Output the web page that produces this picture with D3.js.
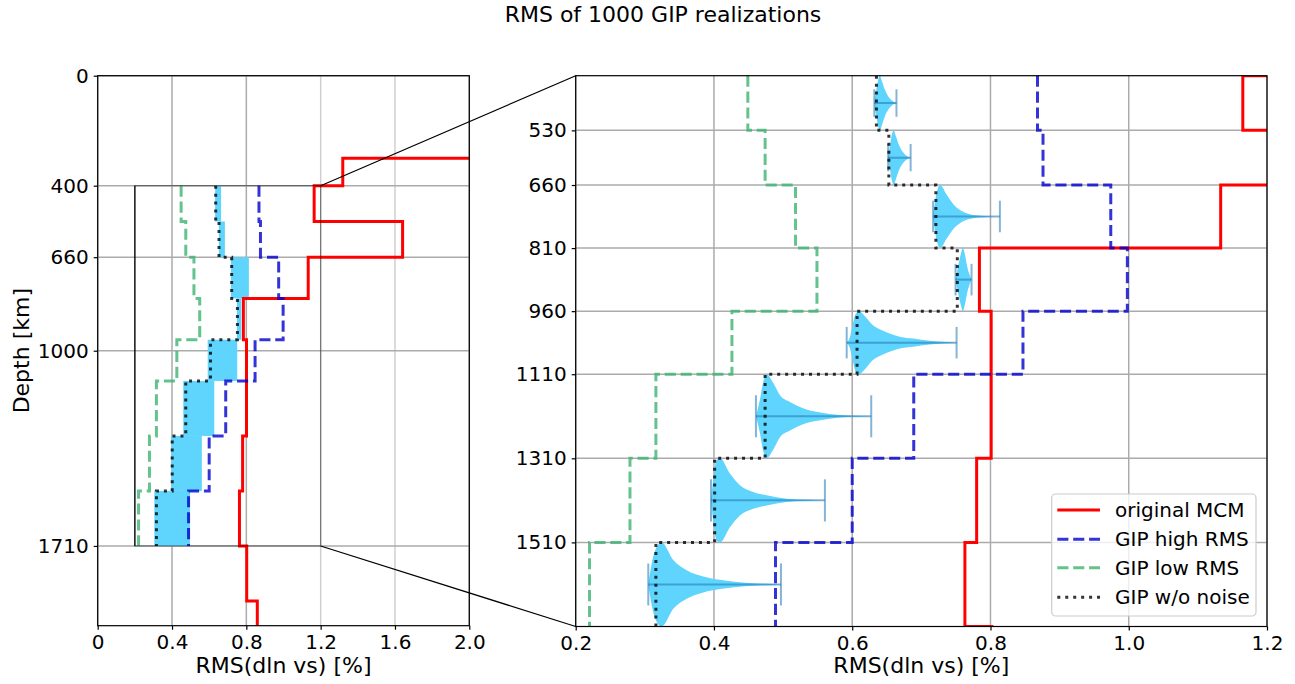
<!DOCTYPE html>
<html>
<head>
<meta charset="utf-8">
<script src="https://cdn.jsdelivr.net/npm/d3@7"></script>
<style>
  html, body { margin: 0; padding: 0; background: #fff; }
  svg { display: block; font-family: "DejaVu Sans", sans-serif; }
</style>
</head>
<body>
<svg id="chart" width="1295" height="684"></svg>
<script>
// ---------------- data ----------------
const titleText = "RMS of 1000 GIP realizations";
const xLabelText = "RMS(dln vs) [%]";
const yLabelText = "Depth [km]";

// original MCM (red) layers: boundaries and RMS per layer (top layer is off-scale)
const mcmDepths = [0, 300, 400, 530, 660, 810, 960, 1310, 1510, 1710, 1910, 2000];
const mcmRMS    = [2.8, 1.319, 1.165, 1.641, 1.133, 0.784, 0.801, 0.780, 0.763, 0.802, 0.859];

// GIP layers
const gipDepths  = [400, 530, 660, 810, 960, 1110, 1310, 1510, 1710];
const gipHighRMS = [0.868, 0.876, 0.974, 0.998, 0.847, 0.689, 0.600, 0.489];
const gipLowRMS  = [0.449, 0.474, 0.518, 0.549, 0.426, 0.316, 0.2785, 0.220];
const gipNoNoise = [0.635, 0.653, 0.721, 0.752, 0.607, 0.474, 0.401, 0.316];

// violin profiles of the 1000 realizations per layer: [RMS, relative density]
const violin1 = [[0.632,0],[0.635,0.5],[0.638,0.9],[0.640,1.0],[0.643,0.8],[0.647,0.5],[0.652,0.25],[0.657,0.1],[0.664,0]];
const violin2 = [[0.652,0],[0.655,0.5],[0.658,0.9],[0.660,1.0],[0.663,0.8],[0.667,0.5],[0.672,0.25],[0.677,0.1],[0.6845,0]];
const violin3 = [[0.717,0],[0.720,0.5],[0.724,0.9],[0.727,1.0],[0.7365,0.7],[0.746,0.4],[0.7605,0.15],[0.775,0.05],[0.790,0.02],[0.8136,0]];
const violin4 = [[0.7495,0],[0.753,0.4],[0.757,0.8],[0.760,1.0],[0.763,0.8],[0.766,0.45],[0.769,0.2],[0.7726,0]];
const violin5 = [[0.592,0],[0.597,0.2],[0.601,0.6],[0.605,0.92],[0.610,1.0],[0.618,0.85],[0.630,0.55],[0.642,0.4],[0.655,0.28],[0.670,0.18],[0.688,0.13],[0.712,0.06],[0.737,0.02],[0.751,0]];
const violin6 = [[0.4607,0],[0.4665,0.4],[0.471,0.8],[0.476,1.0],[0.4858,0.79],[0.4955,0.5],[0.510,0.34],[0.534,0.16],[0.558,0.08],[0.582,0.03],[0.6275,0]];
const violin7 = [[0.3957,0],[0.399,0.5],[0.4039,0.96],[0.4087,1.0],[0.4231,0.64],[0.4376,0.36],[0.4569,0.2],[0.4762,0.12],[0.5051,0.04],[0.534,0.015],[0.5605,0]];
const violin8 = [[0.305,0],[0.310,0.5],[0.3195,0.95],[0.3244,1.0],[0.3412,0.58],[0.3605,0.34],[0.3845,0.19],[0.4087,0.11],[0.4328,0.06],[0.4568,0.03],[0.4857,0.01],[0.4969,0]];
const violins = [violin1, violin2, violin3, violin4, violin5, violin6, violin7, violin8];

// ticks
const leftXTicks = [0, 0.4, 0.8, 1.2, 1.6, 2.0];
const leftXTickLabels = ["0", "0.4", "0.8", "1.2", "1.6", "2.0"];
const leftYTicks = [0, 400, 660, 1000, 1710];
const rightXTicks = [0.2, 0.4, 0.6, 0.8, 1.0, 1.2];
const rightXTickLabels = ["0.2", "0.4", "0.6", "0.8", "1.0", "1.2"];
const rightYTicks = [530, 660, 810, 960, 1110, 1310, 1510];

const legendLabels = ["original MCM", "GIP high RMS", "GIP low RMS", "GIP w/o noise"];

// inset window (zoom region)
const insetX = [0.2, 1.2];
const insetY = [400, 1710];

// ---------------- layout / styles ----------------
const svg = d3.select("#chart");
const L = {x0: 97.7, x1: 469.3, y0: 75.7, y1: 625.7};
const R = {x0: 575.7, x1: 1267, y0: 75.7, y1: 626.5};

const xL = d3.scaleLinear().domain([0, 2]).range([L.x0, L.x1]);
const yL = d3.scaleLinear().domain([0, 2000]).range([L.y0, L.y1]);
const xR = d3.scaleLinear().domain([0.2, 1.2]).range([R.x0, R.x1]);
const yR = d3.scaleLinear().domain([400, 1710]).range([R.y0, R.y1]);

const COL = {
  red: "#ff0000",
  blue: "#0000cd",
  green: "#3cb371",
  black: "#000000",
  violin: "#5fd4fc",
  vline: "#1f77b4",
  grid: "#ababab"
};
const styles = [
  {color: COL.red, dash: null, op: 1},
  {color: COL.blue, dash: "11.1,4.8", op: 0.8},
  {color: COL.green, dash: "11.1,4.8", op: 0.8},
  {color: COL.black, dash: "3,4.95", op: 0.8}
];
const LW = 3;

function stepPoints(bounds, vals) {
  const pts = [];
  vals.forEach((v, i) => { pts.push([v, bounds[i]]); pts.push([v, bounds[i + 1]]); });
  return pts;
}

const defs = svg.append("defs");
defs.append("clipPath").attr("id", "clipL").append("rect")
  .attr("x", L.x0).attr("y", L.y0).attr("width", L.x1 - L.x0).attr("height", L.y1 - L.y0);
defs.append("clipPath").attr("id", "clipR").append("rect")
  .attr("x", R.x0).attr("y", R.y0).attr("width", R.x1 - R.x0).attr("height", R.y1 - R.y0);

function drawPanel(P, xs, ys, xTicks, xTickLabels, yTicks, clipId, isLeft) {
  const g = svg.append("g");
  // grid
  const grid = g.append("g");
  xTicks.forEach(t => {
    const light = isLeft && t > 1.0 && t < 2.0;
    grid.append("line").attr("x1", xs(t)).attr("x2", xs(t)).attr("y1", P.y0).attr("y2", P.y1)
      .attr("stroke", light ? "#cfcfcf" : COL.grid).attr("stroke-width", 1.5);
  });
  yTicks.forEach(t => {
    grid.append("line").attr("x1", P.x0).attr("x2", P.x1).attr("y1", ys(t)).attr("y2", ys(t))
      .attr("stroke", COL.grid).attr("stroke-width", 1.5);
  });

  const plot = g.append("g").attr("clip-path", `url(#${clipId})`);

  // realizations: violins (right) or min-max fills (left)
  violins.forEach((prof, i) => {
    const top = gipDepths[i], bot = gipDepths[i + 1];
    const vmin = d3.min(prof, d => d[0]), vmax = d3.max(prof, d => d[0]);
    if (isLeft) {
      plot.append("rect").attr("x", xs(vmin)).attr("y", ys(top))
        .attr("width", xs(vmax) - xs(vmin)).attr("height", ys(bot) - ys(top))
        .attr("fill", COL.violin);
    } else {
      const c = (top + bot) / 2, h = (bot - top) / 2;
      const area = d3.area().x(d => xs(d[0]))
        .y0(d => ys(c - d[1] * h)).y1(d => ys(c + d[1] * h))
        .curve(d3.curveMonotoneX);
      plot.append("path").attr("d", area(prof)).attr("fill", COL.violin);
      const lg = plot.append("g").attr("stroke", COL.vline).attr("stroke-opacity", 0.55).attr("stroke-width", 2);
      lg.append("line").attr("x1", xs(vmin)).attr("x2", xs(vmax)).attr("y1", ys(c)).attr("y2", ys(c));
      [vmin, vmax].forEach(v => {
        lg.append("line").attr("x1", xs(v)).attr("x2", xs(v))
          .attr("y1", ys(c - h / 2)).attr("y2", ys(c + h / 2));
      });
    }
  });

  const line = d3.line().x(d => xs(d[0])).y(d => ys(d[1]));
  const series = [
    stepPoints(mcmDepths, mcmRMS),
    stepPoints(gipDepths, gipHighRMS),
    stepPoints(gipDepths, gipLowRMS),
    stepPoints(gipDepths, gipNoNoise)
  ];
  series.forEach((pts, k) => {
    const st = styles[k];
    plot.append("path").attr("d", line(pts)).attr("fill", "none")
      .attr("stroke", st.color).attr("stroke-opacity", st.op)
      .attr("stroke-width", LW).attr("stroke-dasharray", st.dash)
      .attr("stroke-linejoin", "miter");
  });

  if (isLeft) {
    // inset indicator
    const ig = g.append("g");
    ig.append("rect").attr("x", xs(insetX[0])).attr("y", ys(insetY[0]))
      .attr("width", xs(insetX[1]) - xs(insetX[0])).attr("height", ys(insetY[1]) - ys(insetY[0]))
      .attr("fill", "none").attr("stroke", "#000").attr("stroke-opacity", 0.45).attr("stroke-width", 1.2);
    ig.append("line").attr("x1", xs(insetX[0])).attr("x2", xs(insetX[0]))
      .attr("y1", ys(insetY[0])).attr("y2", ys(insetY[1]))
      .attr("stroke", "#000").attr("stroke-width", 1.2);
  }

  // axes
  const ax = d3.axisBottom(xs).tickValues(xTicks).tickSize(4).tickPadding(5).tickSizeOuter(0)
    .tickFormat((d, i) => xTickLabels[i]);
  const ay = d3.axisLeft(ys).tickValues(yTicks).tickSize(4).tickPadding(5).tickSizeOuter(0)
    .tickFormat(d => d);
  const gx = g.append("g").attr("transform", `translate(0,${P.y1})`).call(ax);
  const gy = g.append("g").attr("transform", `translate(${P.x0},0)`).call(ay);
  [gx, gy].forEach(a => {
    a.select(".domain").remove();
    a.selectAll("text").attr("font-size", 20).attr("fill", "#000").attr("font-family", "DejaVu Sans");
    a.selectAll("line").attr("stroke", "#000").attr("stroke-width", 1.2);
  });
  // spines
  g.append("rect").attr("x", P.x0).attr("y", P.y0).attr("width", P.x1 - P.x0).attr("height", P.y1 - P.y0)
    .attr("fill", "none").attr("stroke", "#000").attr("stroke-width", 1.2);

  // x label
  g.append("text").attr("x", (P.x0 + P.x1) / 2).attr("y", 673).attr("text-anchor", "middle")
    .attr("font-size", 22).text(xLabelText);
  return g;
}

drawPanel(L, xL, yL, leftXTicks, leftXTickLabels, leftYTicks, "clipL", true);
const gRight = drawPanel(R, xR, yR, rightXTicks, rightXTickLabels, rightYTicks, "clipR", false);

// y label (left panel)
svg.append("text").attr("transform", `translate(29,${(L.y0 + L.y1) / 2}) rotate(-90)`)
  .attr("text-anchor", "middle").attr("font-size", 22).text(yLabelText);

// title
svg.append("text").attr("x", 663).attr("y", 22).attr("text-anchor", "middle")
  .attr("font-size", 22).text(titleText);

// connector lines from inset window to zoomed panel
svg.append("line").attr("x1", xL(insetX[1])).attr("y1", yL(insetY[0]))
  .attr("x2", R.x0).attr("y2", R.y0).attr("stroke", "#000").attr("stroke-width", 1.2);
svg.append("line").attr("x1", xL(insetX[1])).attr("y1", yL(insetY[1]))
  .attr("x2", R.x0).attr("y2", R.y1).attr("stroke", "#000").attr("stroke-width", 1.2);

// legend
const lg = svg.append("g");
lg.append("rect").attr("x", 1051.7).attr("y", 494).attr("width", 204.3).attr("height", 122)
  .attr("rx", 4).attr("fill", "#fff").attr("fill-opacity", 0.8)
  .attr("stroke", "#cccccc").attr("stroke-width", 1.2);
const legendY = [510, 539.3, 567.7, 597.3];
legendLabels.forEach((lab, k) => {
  const st = styles[k];
  lg.append("line").attr("x1", 1057.3).attr("x2", 1100).attr("y1", legendY[k]).attr("y2", legendY[k])
    .attr("stroke", st.color).attr("stroke-opacity", st.op).attr("stroke-width", LW)
    .attr("stroke-dasharray", st.dash);
  lg.append("text").attr("x", 1115).attr("y", legendY[k] + 7).attr("font-size", 20).text(lab);
});
</script>
</body>
</html>
